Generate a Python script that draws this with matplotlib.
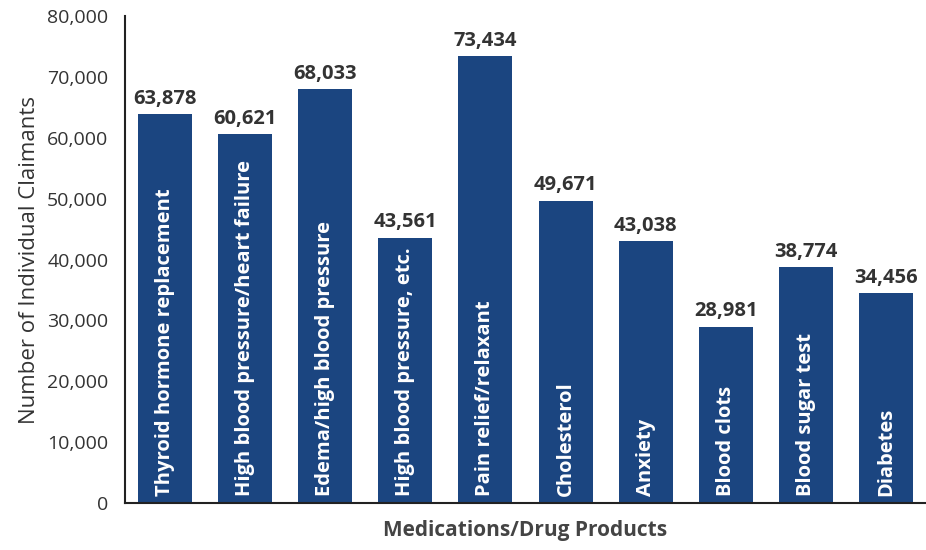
import numpy as np
import matplotlib.pyplot as plt

categories = ["Thyroid hormone replacement", "High blood pressure/heart failure",
              "Edema/high blood pressure", "High blood pressure, etc.",
              "Pain relief/relaxant", "Cholesterol", "Anxiety", "Blood clots",
              "Blood sugar test", "Diabetes"]
claimants = [63878, 60621, 68033, 43561, 73434, 49671, 43038, 28981, 38774, 34456]
yticks = [0, 10000, 20000, 30000, 40000, 50000, 60000, 70000, 80000]

plt.rcParams['font.family'] = ['Open Sans', 'DejaVu Sans']

fig = plt.figure(figsize=(9.26, 5.5), dpi=100)
ax = fig.add_axes([0.135, 0.0855, 0.865, 0.885])

x = np.arange(len(categories))
bars = ax.bar(x, claimants, width=0.675, color='#1b4580')

for xi, v, name in zip(x, claimants, categories):
    ax.text(xi, v + 900, f"{v:,}", ha='center', va='bottom', fontsize=14.5,
            fontweight='bold', color='#333333')
    ax.text(xi, 1200, name, rotation=90, ha='center', va='bottom', fontsize=14.5,
            fontweight='bold', color='white')

ax.set_xlim(-0.5, 9.5)
ax.set_ylim(0, 80000)
ax.set_yticks(yticks)
ax.set_yticklabels([f"{t:,}" for t in yticks], fontsize=14, color='#333333')
ax.set_xticks([])
ax.tick_params(axis='y', length=0, pad=12)
ax.spines['top'].set_visible(False)
ax.spines['right'].set_visible(False)
ax.spines['left'].set_color('#222222')
ax.spines['bottom'].set_color('#222222')
ax.spines['left'].set_linewidth(1.5)
ax.spines['bottom'].set_linewidth(1.5)

ax.set_ylabel("Number of Individual Claimants", fontsize=16,
              color='#333333', labelpad=5)
ax.set_xlabel("Medications/Drug Products", fontsize=15, fontweight='bold',
              color='#444444', labelpad=12)

fig.savefig("out.png", dpi=100)
